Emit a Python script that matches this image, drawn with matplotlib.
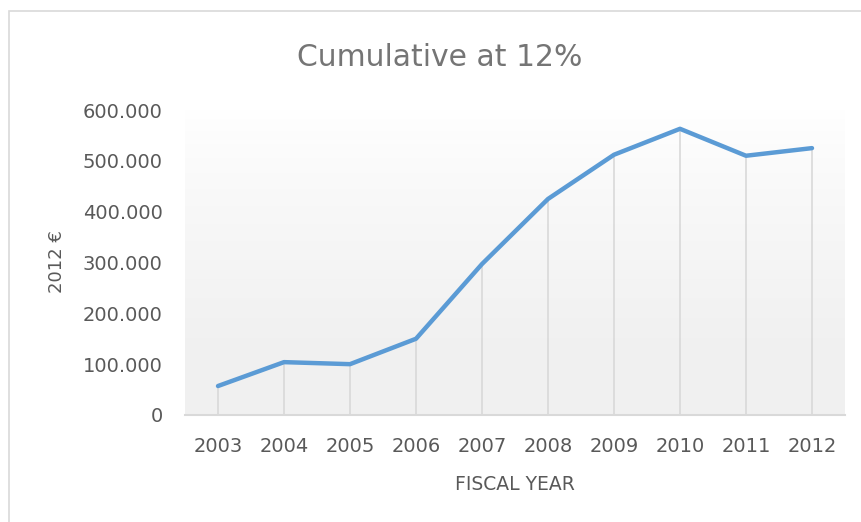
import matplotlib.pyplot as plt
import numpy as np
from matplotlib.patches import Rectangle
from matplotlib.ticker import FuncFormatter

# Fiscal years and cumulative value (2012 EUR)
years = ['2003', '2004', '2005', '2006', '2007', '2008', '2009', '2010', '2011', '2012']
cumulative = [57000, 104000, 100000, 150000, 297000, 425000, 512000, 563000, 510000, 525000]

W, H = 861, 522
fig = plt.figure(figsize=(W / 100, H / 100), dpi=100)
fig.patch.set_facecolor('white')

# light outer frame of the chart
fig.patches.append(Rectangle((9 / W, -0.1), 1.2, 1.1 - 11 / H, transform=fig.transFigure,
                             fill=False, edgecolor='#d9d9d9', linewidth=1.2))

ax = fig.add_axes([185 / W, 1 - 415 / H, 660 / W, 305 / H])
x = np.arange(len(years))

# plot area gradient: white at top, fading to light grey toward the bottom
t = np.linspace(0, 1, 256)
grad = (1.0 - 0.055 * np.clip(t / 0.75, 0, 1) ** 0.8).reshape(-1, 1)
ax.imshow(np.dstack([grad, grad, grad]), extent=(-0.5, 9.5, 0, 600000),
          aspect='auto', zorder=0, interpolation='bicubic')

ax.vlines(x, 0, cumulative, color='#d9d9d9', linewidth=1.2, zorder=1)
ax.plot(x, cumulative, color='#5b9bd5', linewidth=3.2, solid_capstyle='round',
        solid_joinstyle='round', zorder=3)

ax.set_xlim(-0.5, 9.5)
ax.set_ylim(0, 600000)
ax.set_xticks(x, years)
ax.set_yticks(np.arange(0, 600001, 100000))
ax.yaxis.set_major_formatter(FuncFormatter(lambda v, p: f"{int(v):,}".replace(',', '.')))
ax.tick_params(axis='both', length=0, labelsize=14, labelcolor='#595959')
ax.tick_params(axis='x', pad=16)
ax.tick_params(axis='y', pad=16)

for s in ['top', 'left', 'right']:
    ax.spines[s].set_visible(False)
ax.spines['bottom'].set_color('#d9d9d9')
ax.spines['bottom'].set_linewidth(1.5)

fig.text(440 / W, 1 - 57 / H, 'Cumulative at 12%', ha='center', va='center',
         fontsize=21.5, color='#757575')
fig.text(515 / W, 1 - 484 / H, 'FISCAL YEAR', ha='center', va='center',
         fontsize=13.5, color='#595959')
fig.text(57 / W, 1 - 262 / H, '2012 €', ha='center', va='center', rotation=90,
         fontsize=13, color='#595959')

fig.savefig('out.png', dpi=100)
